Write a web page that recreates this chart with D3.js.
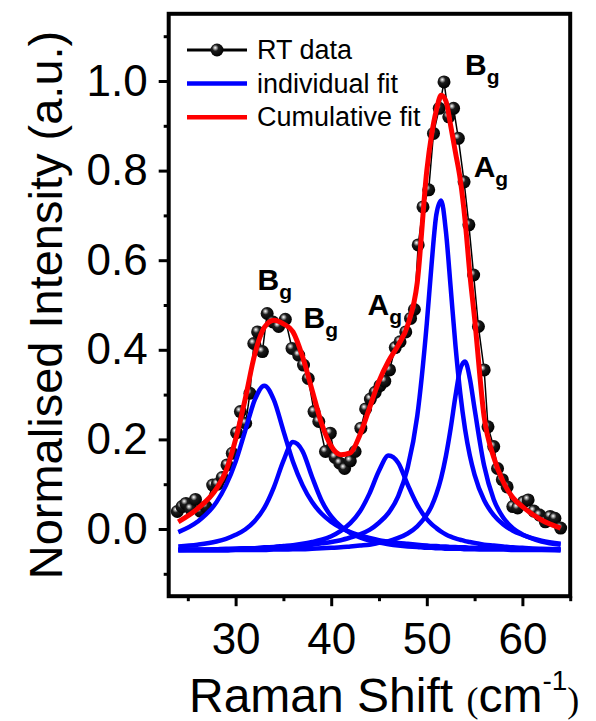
<!DOCTYPE html>
<html>
<head>
<meta charset="utf-8">
<script src="https://cdn.jsdelivr.net/npm/d3@7"></script>
<style>
  body { margin: 0; background: #fff; }
  svg { display: block; }
</style>
</head>
<body>
<div id="chart"></div>
<script>
// RT data (Raman shift in cm-1, normalised intensity)
const rtShift = [23.9, 24.4, 24.8, 25.3, 25.8, 26.3, 26.9, 27.6, 28.1, 28.6, 29.1, 29.65, 30.1, 30.5, 31.05, 31.5, 31.9, 32.3, 32.8, 33.3, 33.9, 34.5, 35.2, 35.9, 36.6, 37.1, 37.6, 38.2, 38.7, 39.4, 39.9, 40.4, 40.9, 41.4, 42.0, 42.5, 43.1, 43.6, 44.1, 44.6, 45.1, 45.6, 46.1, 46.7, 47.2, 47.8, 48.3, 48.7, 49.1, 49.6, 50.2, 50.7, 51.3, 51.8, 52.3, 52.8, 53.3, 53.9, 54.4, 54.9, 55.4, 56.0, 56.4, 57.0, 57.4, 57.9, 58.4, 59.0, 59.5, 60.1, 60.6, 61.2, 61.8, 62.4, 62.9, 63.4, 64.0];
const rtIntensity = [0.039, 0.050, 0.057, 0.045, 0.066, 0.040, 0.050, 0.098, 0.100, 0.115, 0.143, 0.169, 0.215, 0.262, 0.236, 0.303, 0.414, 0.440, 0.396, 0.481, 0.462, 0.452, 0.468, 0.403, 0.388, 0.366, 0.336, 0.262, 0.240, 0.173, 0.214, 0.160, 0.147, 0.135, 0.152, 0.173, 0.225, 0.268, 0.290, 0.305, 0.320, 0.330, 0.355, 0.405, 0.418, 0.440, 0.470, 0.490, 0.634, 0.719, 0.757, 0.883, 0.939, 0.998, 0.920, 0.939, 0.872, 0.775, 0.679, 0.567, 0.452, 0.355, 0.228, 0.184, 0.135, 0.110, 0.094, 0.050, 0.047, 0.060, 0.065, 0.040, 0.031, 0.016, 0.028, 0.024, 0.002];

// fitted curves, sampled on a shared shift grid
const fitShift = [24, 26, 28, 29, 30, 31, 32, 33, 34, 35, 36, 37, 38, 39, 40, 41, 42, 43, 44, 45, 46, 47, 48, 49, 50, 50.5, 51, 51.5, 52, 52.5, 53, 53.5, 54, 54.5, 55, 56, 57, 58, 59, 60, 62, 64];
const fitBg1 = [-0.007, 0.016, 0.060, 0.098, 0.150, 0.219, 0.288, 0.320, 0.288, 0.219, 0.150, 0.098, 0.060, 0.034, 0.016, 0.003, -0.007, -0.014, -0.020, -0.025, -0.028, -0.031, -0.033, -0.035, -0.037, -0.038, -0.038, -0.039, -0.039, -0.040, -0.040, -0.041, -0.041, -0.042, -0.042, -0.043, -0.043, -0.044, -0.044, -0.045, -0.045, -0.046];
const fitBg2 = [-0.039, -0.035, -0.028, -0.022, -0.013, -0.001, 0.018, 0.047, 0.093, 0.152, 0.194, 0.174, 0.116, 0.063, 0.028, 0.006, -0.009, -0.019, -0.026, -0.030, -0.034, -0.037, -0.039, -0.040, -0.042, -0.042, -0.043, -0.043, -0.044, -0.044, -0.044, -0.044, -0.045, -0.045, -0.045, -0.046, -0.046, -0.046, -0.047, -0.047, -0.047, -0.048];
const fitAg1 = [-0.047, -0.046, -0.045, -0.045, -0.044, -0.043, -0.043, -0.041, -0.040, -0.038, -0.036, -0.033, -0.029, -0.024, -0.016, -0.004, 0.013, 0.039, 0.079, 0.130, 0.164, 0.148, 0.099, 0.054, 0.022, 0.011, 0.002, -0.006, -0.012, -0.017, -0.021, -0.024, -0.027, -0.029, -0.031, -0.035, -0.037, -0.039, -0.041, -0.042, -0.044, -0.045];
const fitBg3 = [-0.046, -0.046, -0.045, -0.044, -0.044, -0.043, -0.043, -0.042, -0.041, -0.040, -0.038, -0.037, -0.035, -0.032, -0.029, -0.025, -0.019, -0.012, -0.002, 0.014, 0.036, 0.073, 0.137, 0.252, 0.459, 0.591, 0.702, 0.733, 0.664, 0.538, 0.409, 0.303, 0.223, 0.164, 0.121, 0.064, 0.031, 0.010, -0.004, -0.013, -0.026, -0.033];
const fitAg2 = [-0.048, -0.048, -0.048, -0.048, -0.047, -0.047, -0.047, -0.047, -0.046, -0.046, -0.045, -0.045, -0.044, -0.043, -0.042, -0.041, -0.039, -0.037, -0.035, -0.031, -0.027, -0.020, -0.010, 0.006, 0.032, 0.051, 0.078, 0.114, 0.163, 0.225, 0.297, 0.357, 0.374, 0.336, 0.268, 0.141, 0.066, 0.025, 0.002, -0.012, -0.028, -0.035];
const cumulativeFit = [0.016, 0.045, 0.090, 0.130, 0.200, 0.290, 0.390, 0.450, 0.466, 0.458, 0.440, 0.385, 0.310, 0.235, 0.185, 0.166, 0.170, 0.210, 0.270, 0.330, 0.375, 0.410, 0.455, 0.550, 0.800, 0.880, 0.935, 0.968, 0.955, 0.900, 0.840, 0.780, 0.690, 0.570, 0.470, 0.250, 0.160, 0.105, 0.070, 0.050, 0.020, 0.002];

const xTicks = [30, 40, 50, 60];
const xMinorTicks = [25, 35, 45, 55, 65];
const yTicks = [0, 0.2, 0.4, 0.6, 0.8, 1.0];
const yMinorTicks = [-0.1, 0.1, 0.3, 0.5, 0.7, 0.9, 1.1];
const legendLabels = ["RT data", "individual fit", "Cumulative fit"];

// mode labels
const modeMain = ["B", "B", "A", "B", "A"];
const modeSub = ["g", "g", "g", "g", "g"];
const modeShift = [32.3, 37.1, 43.8, 54.0, 54.9];
const modeIntensity = [0.533, 0.449, 0.478, 1.013, 0.786];

const W = 596, H = 721;
const plot = { left: 168.7, right: 570.2, top: 13.8, bottom: 596.2 };
const font = "'Liberation Sans', Arial, sans-serif";

const svg = d3.select("#chart").append("svg")
    .attr("width", W)
    .attr("height", H)
    .attr("font-family", font);

const x = d3.scaleLinear().domain([23, 65]).range([plot.left, plot.right]);
const y = d3.scaleLinear().domain([-0.15, 1.15]).range([plot.bottom, plot.top]);

// sphere gradient for the data markers
const defs = svg.append("defs");
const grad = defs.append("radialGradient")
    .attr("id", "ball")
    .attr("cx", "40%").attr("cy", "38%").attr("r", "62%")
    .attr("fx", "36%").attr("fy", "32%");
grad.append("stop").attr("offset", "0%").attr("stop-color", "#ffffff");
grad.append("stop").attr("offset", "14%").attr("stop-color", "#b5b5b5");
grad.append("stop").attr("offset", "40%").attr("stop-color", "#1c1c1c");
grad.append("stop").attr("offset", "100%").attr("stop-color", "#000000");

defs.append("clipPath").attr("id", "clip")
    .append("rect")
    .attr("x", plot.left).attr("y", plot.top)
    .attr("width", plot.right - plot.left)
    .attr("height", plot.bottom - plot.top);

// axes
const xAxis = svg.append("g")
    .attr("transform", `translate(0,${plot.bottom})`)
    .call(d3.axisBottom(x).tickValues(xTicks).tickSize(10).tickPadding(17).tickFormat(d3.format("d")));
const xMinor = svg.append("g")
    .attr("transform", `translate(0,${plot.bottom})`)
    .call(d3.axisBottom(x).tickValues(xMinorTicks).tickSize(5).tickFormat(""));
const yAxis = svg.append("g")
    .attr("transform", `translate(${plot.left},0)`)
    .call(d3.axisLeft(y).tickValues(yTicks).tickSize(10).tickPadding(11).tickFormat(d3.format(".1f")));
const yMinor = svg.append("g")
    .attr("transform", `translate(${plot.left},0)`)
    .call(d3.axisLeft(y).tickValues(yMinorTicks).tickSize(5).tickFormat(""));

[xAxis, xMinor, yAxis, yMinor].forEach(g => {
    g.select(".domain").remove();
    g.selectAll(".tick line").attr("stroke", "#000").attr("stroke-width", 3);
});
[xAxis, yAxis].forEach(g => {
    g.selectAll(".tick text")
        .attr("font-family", font)
        .attr("font-size", 44)
        .attr("fill", "#000");
});

// frame
svg.append("rect")
    .attr("x", plot.left).attr("y", plot.top)
    .attr("width", plot.right - plot.left)
    .attr("height", plot.bottom - plot.top)
    .attr("fill", "none")
    .attr("stroke", "#000")
    .attr("stroke-width", 4);

const area = svg.append("g").attr("clip-path", "url(#clip)");

// data line and spheres
const rt = rtShift.map((s, i) => ({ s, v: rtIntensity[i] }));
area.append("path")
    .datum(rt)
    .attr("fill", "none")
    .attr("stroke", "#000")
    .attr("stroke-width", 1.5)
    .attr("d", d3.line().x(d => x(d.s)).y(d => y(d.v)));
area.selectAll("circle.pt")
    .data(rt)
    .enter().append("circle")
    .attr("class", "pt")
    .attr("cx", d => x(d.s))
    .attr("cy", d => y(d.v))
    .attr("r", 6.5)
    .attr("fill", "url(#ball)");

// fits
const fitLine = d3.line()
    .x((d, i) => x(fitShift[i]))
    .y(d => y(d))
    .curve(d3.curveMonotoneX);
[fitBg1, fitBg2, fitAg1, fitBg3, fitAg2].forEach(series => {
    area.append("path")
        .datum(series)
        .attr("fill", "none")
        .attr("stroke", "#0000ff")
        .attr("stroke-width", 4.5)
        .attr("d", fitLine);
});
area.append("path")
    .datum(cumulativeFit)
    .attr("fill", "none")
    .attr("stroke", "#ff0000")
    .attr("stroke-width", 5)
    .attr("d", fitLine);

// mode labels
modeMain.forEach((m, i) => {
    const t = svg.append("text")
        .attr("x", x(modeShift[i]))
        .attr("y", y(modeIntensity[i]))
        .attr("font-size", 30)
        .attr("font-weight", "bold")
        .text(m);
    t.append("tspan")
        .attr("font-size", 21)
        .attr("dy", 9)
        .text(modeSub[i]);
});

// legend
const legendColors = ["#000", "#0000ff", "#ff0000"];
const legend = svg.append("g").attr("transform", "translate(187,50)");
legendLabels.forEach((label, i) => {
    const row = legend.append("g").attr("transform", `translate(0,${i * 33.6})`);
    row.append("line")
        .attr("x1", 0).attr("x2", 60)
        .attr("stroke", legendColors[i])
        .attr("stroke-width", i === 0 ? 3 : 4.5);
    if (i === 0) {
        row.append("circle").attr("cx", 30).attr("r", 6.5).attr("fill", "url(#ball)");
    }
    row.append("text")
        .attr("x", 70)
        .attr("y", 9)
        .attr("font-size", 27)
        .text(label);
});

// axis titles
svg.append("text")
    .attr("transform", `translate(62,${(plot.top + plot.bottom) / 2}) rotate(-90)`)
    .attr("text-anchor", "middle")
    .attr("font-size", 47)
    .text("Normalised Intensity (a.u.)");

const xt = svg.append("text")
    .attr("x", 189)
    .attr("y", 712)
    .attr("font-size", 48)
    .text("Raman Shift ");
xt.append("tspan").attr("font-family", "'Liberation Serif', serif").attr("font-size", 36).text("(");
xt.append("tspan").text("cm");
xt.append("tspan").attr("font-size", 28).attr("dy", -22).text("-1");
xt.append("tspan").attr("font-family", "'Liberation Serif', serif").attr("font-size", 36).attr("dy", 22).text(")");
</script>
</body>
</html>
